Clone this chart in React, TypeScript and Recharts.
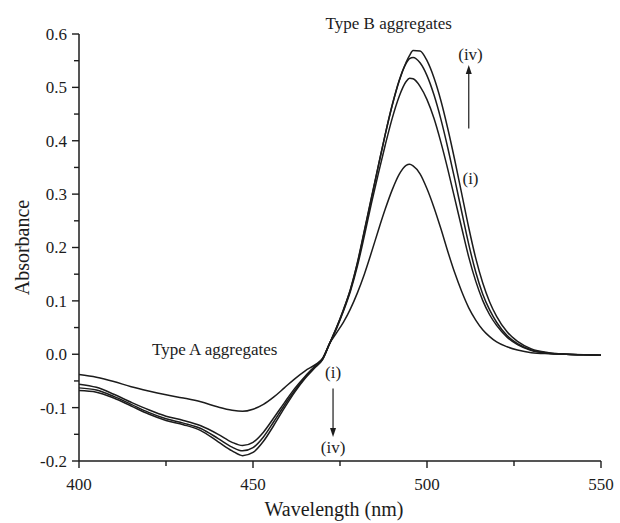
import { LineChart, Line, XAxis, YAxis, ReferenceDot, ReferenceLine, Label } from "recharts";

const wavelength = [
  400, 405, 410, 415, 420, 425, 430, 435, 440, 444, 447, 450, 453, 456, 459, 462, 465, 468, 470, 472,
  474, 476, 478, 480, 482, 484, 486, 488, 490, 492, 494, 495, 496, 498, 500, 502, 504, 506, 508, 510,
  512, 514, 516, 518, 520, 523, 526, 530, 535, 540, 545, 550,
];

const absI = [
  -0.038, -0.043, -0.051, -0.061, -0.069, -0.076, -0.082, -0.089, -0.099, -0.105, -0.107, -0.103, -0.094, -0.08, -0.063, -0.046, -0.031, -0.019, -0.008, 0.02,
  0.04, 0.06, 0.085, 0.115, 0.15, 0.19, 0.232, 0.272, 0.308, 0.337, 0.354, 0.356, 0.353, 0.338, 0.31, 0.275, 0.235, 0.192, 0.152, 0.117,
  0.087, 0.064, 0.046, 0.033, 0.023, 0.014, 0.008, 0.003, 0.001, 0.0, -0.001, -0.002,
];

const absII = [
  -0.056, -0.062, -0.075, -0.09, -0.104, -0.116, -0.124, -0.134, -0.15, -0.165, -0.171, -0.165, -0.146, -0.119, -0.091, -0.064, -0.041, -0.021, -0.008, 0.02,
  0.048, 0.081, 0.118, 0.165, 0.222, 0.282, 0.338, 0.392, 0.442, 0.483, 0.511, 0.517, 0.516, 0.502, 0.477, 0.442, 0.397, 0.346, 0.291, 0.236,
  0.182, 0.137, 0.101, 0.074, 0.054, 0.032, 0.018, 0.007, 0.002, 0.0, -0.001, -0.002,
];

const absIII = [
  -0.063, -0.067, -0.079, -0.094, -0.109, -0.121, -0.129, -0.139, -0.158, -0.174, -0.181, -0.175, -0.155, -0.126, -0.096, -0.068, -0.043, -0.022, -0.009, 0.02,
  0.05, 0.084, 0.122, 0.172, 0.232, 0.293, 0.353, 0.412, 0.466, 0.512, 0.545, 0.554, 0.556, 0.546, 0.522, 0.486, 0.44, 0.386, 0.327, 0.266,
  0.206, 0.154, 0.113, 0.083, 0.06, 0.035, 0.02, 0.008, 0.002, 0.0, -0.001, -0.002,
];

const absIV = [
  -0.068, -0.071, -0.082, -0.097, -0.112, -0.124, -0.132, -0.143, -0.164, -0.181, -0.19, -0.184, -0.163, -0.133, -0.101, -0.071, -0.045, -0.024, -0.01, 0.02,
  0.05, 0.083, 0.121, 0.17, 0.23, 0.291, 0.352, 0.412, 0.467, 0.513, 0.547, 0.56, 0.569, 0.568, 0.55, 0.518, 0.475, 0.422, 0.363, 0.3,
  0.237, 0.18, 0.134, 0.098, 0.071, 0.042, 0.024, 0.01, 0.003, 0.0, -0.001, -0.002,
];

const xTicks = [400, 425, 450, 475, 500, 525, 550];
const yTicks = [-0.2, -0.15, -0.1, -0.05, 0, 0.05, 0.1, 0.15, 0.2, 0.25, 0.3, 0.35, 0.4, 0.45, 0.5, 0.55, 0.6];

const data = wavelength.map((w, i) => ({
  w,
  a1: absI[i],
  a2: absII[i],
  a3: absIII[i],
  a4: absIV[i],
}));

const serif = "'Liberation Serif', 'Times New Roman', serif";
const ink = "#1c1c1c";

const XTick = ({ x, y, payload }: any) => {
  const major = payload.value % 50 === 0;
  return (
    <g>
      <line x1={x} x2={x} y1={y} y2={y + (major ? 7 : 5)} stroke={ink} strokeWidth={1.4} />
      {major && (
        <text x={x} y={y + 29} textAnchor="middle" fontFamily={serif} fontSize={17} fill={ink}>
          {payload.value}
        </text>
      )}
    </g>
  );
};

const YTick = ({ x, y, payload }: any) => {
  const v = payload.value;
  const major = Math.round(v * 100) % 10 === 0;
  return (
    <g>
      <line x1={x - (major ? 7 : 5)} x2={x} y1={y} y2={y} stroke={ink} strokeWidth={1.4} />
      {major && (
        <text x={x - 12} y={y} dy="0.35em" textAnchor="end" fontFamily={serif} fontSize={17} fill={ink}>
          {v.toFixed(1)}
        </text>
      )}
    </g>
  );
};

const note = (label: string) => (p: any) => (
  <text x={p.cx} y={p.cy} dy="0.35em" textAnchor="middle" fontFamily={serif} fontSize={17} fill={ink}>
    {label}
  </text>
);

const head = (up: boolean) => (p: any) => {
  const s = up ? 1 : -1;
  return (
    <polygon
      points={`${p.cx},${p.cy} ${p.cx - 3},${p.cy + s * 9} ${p.cx + 3},${p.cy + s * 9}`}
      fill={ink}
    />
  );
};

export default function App() {
  return (
    <div style={{ position: "absolute", left: 0, top: 0, background: "#fff" }}>
      <LineChart width={620} height={523} data={data} margin={{ top: 34, right: 19, bottom: 0, left: 0 }}>
        <XAxis
          dataKey="w"
          type="number"
          domain={[400, 550]}
          ticks={xTicks}
          tick={<XTick />}
          tickSize={0}
          tickMargin={0}
          height={62}
          axisLine={{ stroke: ink, strokeWidth: 1.5 }}
          tickLine={false}
          interval={0}
        >
          <Label
            content={({ viewBox }: any) => (
              <text
                x={viewBox.x + viewBox.width / 2 - 6}
                y={viewBox.y + 55}
                textAnchor="middle"
                fontFamily={serif}
                fontSize={20}
                fill={ink}
              >
                Wavelength (nm)
              </text>
            )}
          />
        </XAxis>
        <YAxis
          type="number"
          domain={[-0.2, 0.6]}
          ticks={yTicks}
          tick={<YTick />}
          tickSize={0}
          tickMargin={0}
          width={79}
          axisLine={{ stroke: ink, strokeWidth: 1.5 }}
          tickLine={false}
          interval={0}
        >
          <Label
            content={({ viewBox }: any) => (
              <text
                x={22}
                y={viewBox.y + viewBox.height / 2}
                transform={`rotate(-90, 22, ${viewBox.y + viewBox.height / 2})`}
                dy="0.35em"
                textAnchor="middle"
                fontFamily={serif}
                fontSize={20}
                fill={ink}
              >
                Absorbance
              </text>
            )}
          />
        </YAxis>

        <Line dataKey="a1" type="monotone" stroke={ink} strokeWidth={1.5} dot={false} isAnimationActive={false} />
        <Line dataKey="a2" type="monotone" stroke={ink} strokeWidth={1.5} dot={false} isAnimationActive={false} />
        <Line dataKey="a3" type="monotone" stroke={ink} strokeWidth={1.5} dot={false} isAnimationActive={false} />
        <Line dataKey="a4" type="monotone" stroke={ink} strokeWidth={1.5} dot={false} isAnimationActive={false} />

        <ReferenceLine segment={[{ x: 512, y: 0.423 }, { x: 512, y: 0.535 }]} stroke={ink} strokeWidth={1.2} ifOverflow="visible" />
        <ReferenceDot x={512} y={0.542} ifOverflow="visible" shape={head(true)} />
        <ReferenceLine segment={[{ x: 473, y: -0.064 }, { x: 473, y: -0.148 }]} stroke={ink} strokeWidth={1.2} ifOverflow="visible" />
        <ReferenceDot x={473} y={-0.155} ifOverflow="visible" shape={head(false)} />

        <ReferenceDot x={489} y={0.621} ifOverflow="visible" shape={note("Type B aggregates")} />
        <ReferenceDot x={512.5} y={0.562} ifOverflow="visible" shape={note("(iv)")} />
        <ReferenceDot x={512.5} y={0.33} ifOverflow="visible" shape={note("(i)")} />
        <ReferenceDot x={439} y={0.01} ifOverflow="visible" shape={note("Type A aggregates")} />
        <ReferenceDot x={473} y={-0.034} ifOverflow="visible" shape={note("(i)")} />
        <ReferenceDot x={473} y={-0.174} ifOverflow="visible" shape={note("(iv)")} />
      </LineChart>
    </div>
  );
}
